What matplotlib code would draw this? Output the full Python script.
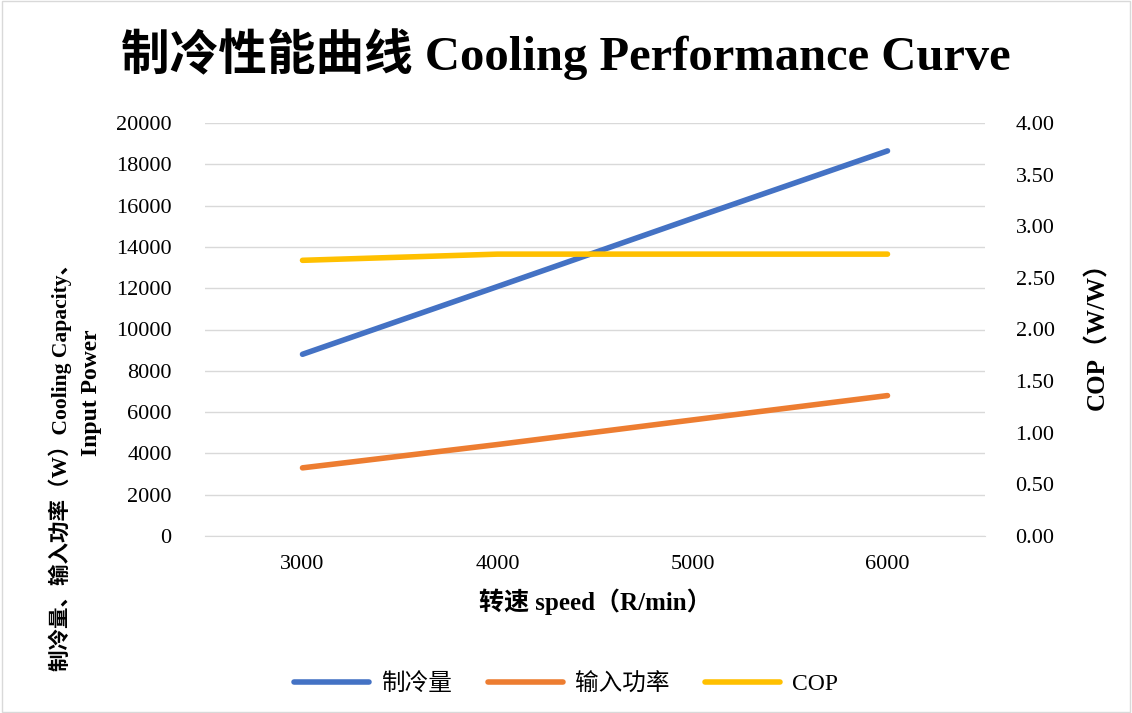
import matplotlib.pyplot as plt
from matplotlib.patches import Rectangle

plt.rcParams['font.family'] = ['Liberation Serif', 'Noto Sans CJK SC']

speeds = ['3000', '4000', '5000', '6000']
cooling = [8800, 12080, 15380, 18650]
power = [3300, 4430, 5620, 6800]
cop = [2.67, 2.73, 2.73, 2.73]

W, H = 1132, 713
fig = plt.figure(figsize=(W / 100, H / 100), dpi=100)
ax = fig.add_axes([205/W, 1-536/H, 780/W, 413/H])
ax2 = ax.twinx()
x = range(len(speeds))

l1, = ax.plot(x, cooling, color='#4472C4', lw=4, label='制冷量', solid_capstyle='round')
l2, = ax.plot(x, power, color='#ED7D31', lw=4, label='输入功率', solid_capstyle='round')
l3, = ax2.plot(x, cop, color='#FFC000', lw=4, label='COP', solid_capstyle='round')

ax.set_xlim(-0.5, 3.5)
ax.set_ylim(0, 20000)
ax.set_yticks(range(0, 20001, 2000))
ax2.set_ylim(0, 4)
ax2.set_yticks([i * 0.5 for i in range(9)])
ax2.set_yticklabels(['%.2f' % (i * 0.5) for i in range(9)])
ax.set_xticks(list(x))
ax.set_xticklabels(speeds)
ax.grid(axis='y', color='#D9D9D9', lw=1)
ax.set_axisbelow(True)
for a in (ax, ax2):
    for s in a.spines.values():
        s.set_visible(False)
    a.tick_params(length=0, labelsize=16, colors='#000000')
ax.spines['bottom'].set_visible(True)
ax.spines['bottom'].set_color('#D9D9D9')
ax.tick_params(axis='x', pad=14)
ax.tick_params(axis='y', pad=24)
ax2.tick_params(axis='y', pad=22)

ax.set_xlabel('转速 speed（R/min）', fontsize=18, fontweight='bold', labelpad=10)
fig.text(60/W, 1-462/H, '制冷量、输入功率（W）Cooling Capacity、', rotation=90,
         fontsize=15.5, fontweight='bold', ha='center', va='center')
fig.text(92/W, 1-393/H, 'Input Power', rotation=90,
         fontsize=17, fontweight='bold', ha='center', va='center')
ax2.set_ylabel('COP（W/W）', fontsize=18, fontweight='bold', labelpad=22)

fig.suptitle('制冷性能曲线 Cooling Performance Curve', fontsize=35, fontweight='bold', y=0.96)
fig.legend(handles=[l1, l2, l3], loc='lower center', ncol=3, frameon=False,
           fontsize=17, bbox_to_anchor=(0.5, -0.005), handlelength=3.2, columnspacing=1.5,
           handletextpad=0.5)
fig.patches.append(Rectangle((0.002, 0.002), 0.996, 0.996, transform=fig.transFigure,
                             fill=False, edgecolor='#D9D9D9', lw=1))
fig.savefig('out.png', dpi=100)
